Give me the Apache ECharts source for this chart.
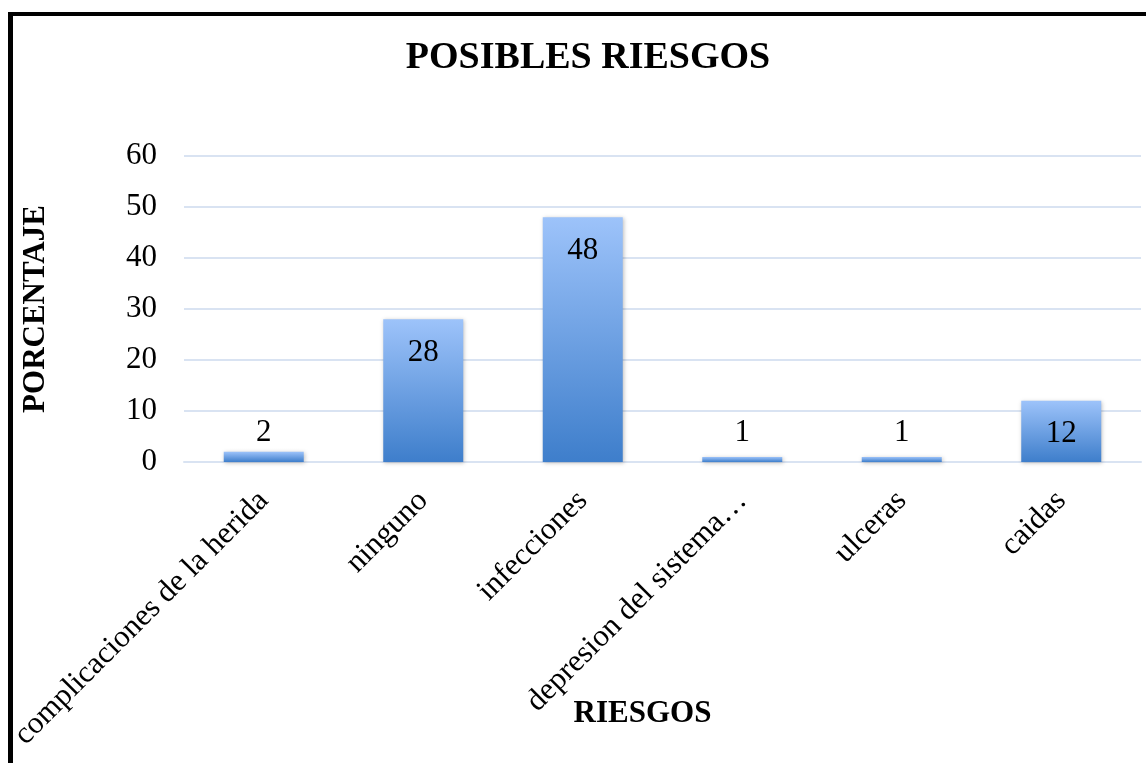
<!DOCTYPE html>
<html>
<head>
<meta charset="utf-8">
<script src="https://cdn.jsdelivr.net/npm/echarts@6/dist/echarts.min.js"></script>
<style>
  html, body { margin: 0; padding: 0; background: #fff; }
  #chart { position: absolute; left: 0; top: 0; width: 1146px; height: 763px; }
  #frame { position: absolute; left: 8px; top: 12px; width: 1200px; height: 800px;
           border-left: 5px solid #000; border-top: 4px solid #000; pointer-events: none; }
</style>
</head>
<body>
<div id="chart"></div>
<div id="frame"></div>
<script>
const categories = ['complicaciones de la herida', 'ninguno', 'infecciones', 'depresion del sistema…', 'ulceras', 'caidas'];
const values = [2, 28, 48, 1, 1, 12];
const yTicks = { min: 0, max: 60, interval: 10 };

const FONT = '"Liberation Serif", "Times New Roman", serif';

const chart = echarts.init(document.getElementById('chart'), null, { renderer: 'canvas' });

const barData = values.map(v => ({
  value: v,
  label: v < 10
    ? { position: 'insideBottom', distance: 14 }
    : { position: 'insideTop', distance: 18 }
}));

chart.setOption({
  animation: false,
  backgroundColor: '#ffffff',
  title: {
    text: 'POSIBLES RIESGOS',
    left: 583,
    textAlign: 'center',
    top: 34,
    textStyle: { fontFamily: FONT, fontSize: 38, fontWeight: 'bold', color: '#000' }
  },
  grid: { left: 184, right: 5, top: 156, bottom: 301, containLabel: false, outerBoundsMode: 'none' },
  xAxis: {
    type: 'category',
    data: categories,
    name: 'RIESGOS',
    nameLocation: 'middle',
    nameMoveOverlap: false,
    nameGap: 236,
    nameTextStyle: { fontFamily: FONT, fontSize: 31, fontWeight: 'bold', color: '#000', padding: [0, 40, 0, 0] },
    axisLine: { show: true, lineStyle: { color: '#d9e3f2', width: 2 } },
    axisTick: { show: false },
    axisLabel: {
      interval: 0, rotate: 45, margin: 34,
      fontFamily: FONT, fontSize: 31, color: '#000'
    }
  },
  yAxis: {
    type: 'value',
    min: yTicks.min, max: yTicks.max, interval: yTicks.interval,
    name: 'PORCENTAJE',
    nameLocation: 'middle',
    nameMoveOverlap: false,
    nameGap: 133,
    nameRotate: 90,
    nameTextStyle: { fontFamily: FONT, fontSize: 31, fontWeight: 'bold', color: '#000' },
    axisLine: { show: false },
    axisTick: { show: false },
    axisLabel: { margin: 27, fontFamily: FONT, fontSize: 31, color: '#000' },
    splitLine: { lineStyle: { color: '#d9e3f2', width: 2 } }
  },
  series: [{
    type: 'bar',
    data: barData,
    barWidth: 80,
    itemStyle: {
      color: new echarts.graphic.LinearGradient(0, 0, 0, 1, [
        { offset: 0, color: '#9dc3fa' },
        { offset: 1, color: '#3e7ecb' }
      ]),
      shadowColor: 'rgba(0,0,0,0.25)',
      shadowBlur: 4,
      shadowOffsetX: 1,
      shadowOffsetY: 1
    },
    label: {
      show: true,
      fontFamily: FONT, fontSize: 31, color: '#000'
    }
  }]
});
</script>
</body>
</html>
